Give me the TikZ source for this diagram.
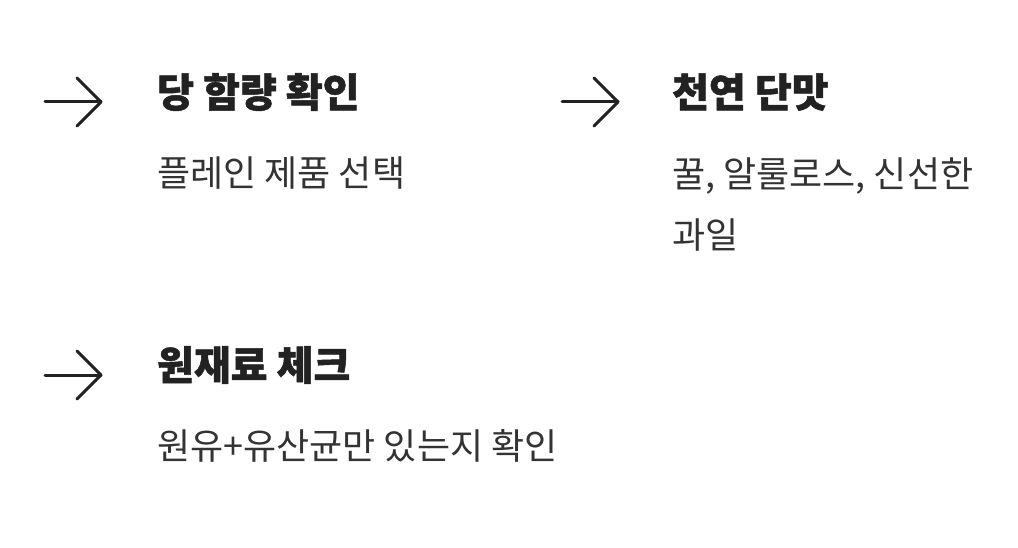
\documentclass[tikz,border=0pt]{standalone}
\usepackage{fontspec}
\usetikzlibrary{calc}
\setmainfont{Noto Sans CJK KR}[BoldFeatures={FakeBold=1.2}]
\definecolor{ink}{HTML}{222222}
\definecolor{body}{HTML}{333333}
\begin{document}
\begin{tikzpicture}[x=1pt,y=-1pt,
  head/.style={anchor=west,inner sep=0pt,font=\fontsize{40}{44}\selectfont\bfseries,text=ink},
  txt/.style={anchor=west,inner sep=0pt,font=\fontsize{36}{61}\selectfont,text=body,align=left},
  arr/.style={draw=ink,line width=3pt,line cap=round,line join=round}]
\useasboundingbox (0,0) rectangle (1018,548);
\foreach \n/\x/\y in {a/45/102,b/562/102,c/45/375}{
  \coordinate (\n s) at (\x,\y);
  \coordinate (\n e) at (\x+56,\y);
  \draw[arr] (\n s) -- (\n e);
  \draw[arr] ($(\n e)+(-24,-24)$) -- (\n e) -- ($(\n e)+(-24,24)$);
}
\node[head] (h1) at (157,92) {당 함량 확인};
\node[txt] (t1) at (157,173) {플레인 제품 선택};
\node[head] (h2) at (672,92) {천연 단맛};
\node[txt,anchor=north west] (t2) at (672,158) {꿀, 알룰로스, 신선한\\과일};
\node[head] (h3) at (157,365) {원재료 체크};
\node[txt] (t3) at (157,446) {원유+유산균만 있는지 확인};
\end{tikzpicture}
\end{document}
